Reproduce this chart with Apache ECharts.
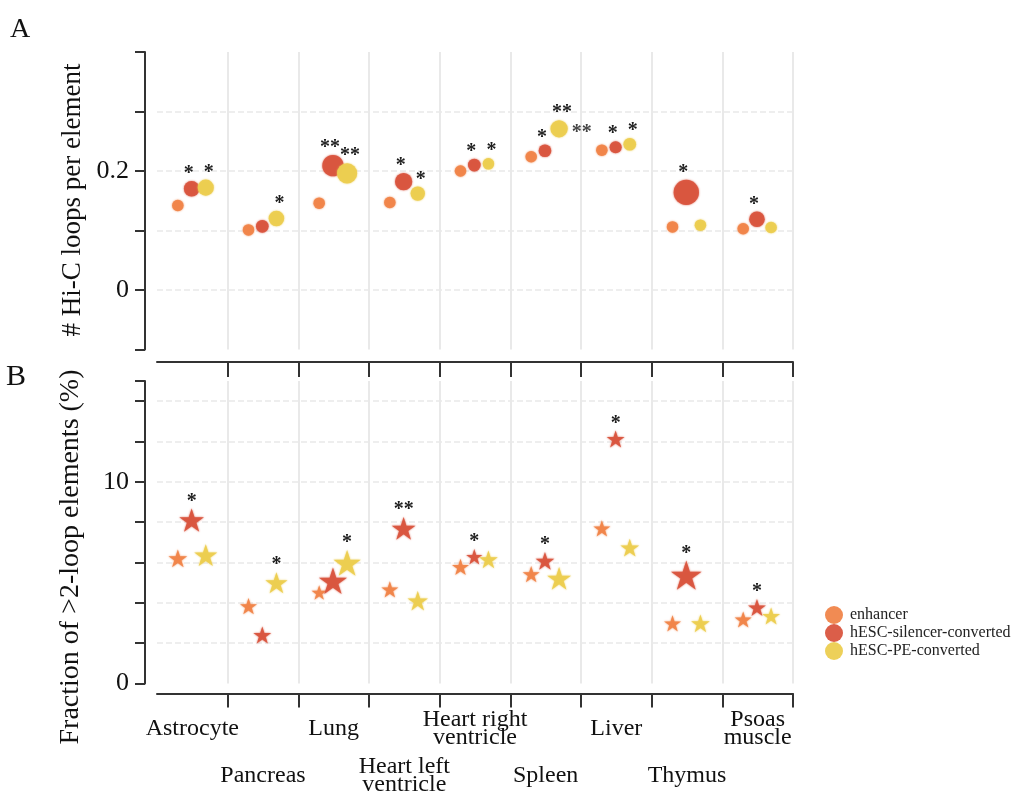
<!DOCTYPE html>
<html>
<head>
<meta charset="utf-8">
<script src="https://cdn.jsdelivr.net/npm/echarts@6/dist/echarts.min.js"></script>
<style>html,body{margin:0;padding:0;background:#fff}#c{width:1021px;height:794px}</style>
</head>
<body>
<div id="c"></div>
<script>
// ---------------- data ----------------
const categories = ['Astrocyte', 'Pancreas', 'Lung', 'Heart left\nventricle', 'Heart right\nventricle',
  'Spleen', 'Liver', 'Thymus', 'Psoas\nmuscle'];
const seriesNames = ['enhancer', 'hESC-silencer-converted', 'hESC-PE-converted'];

// Panel A: # Hi-C loops per element
const loopsEnh = [0.142, 0.101, 0.146, 0.147, 0.200, 0.224, 0.235, 0.106, 0.103];
const loopsSil = [0.170, 0.107, 0.209, 0.182, 0.210, 0.234, 0.240, 0.164, 0.119];
const loopsPE  = [0.172, 0.120, 0.196, 0.162, 0.212, 0.271, 0.245, 0.109, 0.105];
// relative marker magnitude (panel A)
const magAEnh = [1, 1, 1, 1, 1, 1, 1, 1, 1];
const magASil = [1.35, 1.1, 1.85, 1.5, 1.1, 1.1, 1.05, 2.2, 1.35];
const magAPE  = [1.4, 1.35, 1.75, 1.25, 1.0, 1.5, 1.1, 1.0, 1.0];
// significance marks (panel A)
const sigASil = ['*', '', '**', '*', '*', '*', '*', '*', '*'];
const sigAPE  = ['*', '*', '**', '*', '*', '**', '*', '', ''];
const sigAPESide = ['', '', '', '', '', '**', '', '', ''];

// Panel B: Fraction of >2-loop elements (%)
const fracEnh = [6.20, 3.83, 4.51, 4.66, 5.78, 5.42, 7.69, 2.98, 3.17];
const fracSil = [8.10, 2.40, 5.09, 7.69, 6.28, 6.08, 12.12, 5.37, 3.77];
const fracPE  = [6.36, 4.99, 5.98, 4.10, 6.15, 5.21, 6.73, 2.98, 3.34];
// relative marker magnitude (panel B)
const magBEnh = [1.1, 1, 0.9, 1, 1, 1, 1, 1, 1];
const magBSil = [1.45, 1.05, 1.65, 1.4, 0.95, 1.1, 1.05, 1.8, 1.05];
const magBPE  = [1.35, 1.3, 1.6, 1.2, 1.1, 1.4, 1.1, 1.1, 1.05];
// significance marks (panel B)
const sigBSil = ['*', '', '', '**', '*', '*', '*', '*', '*'];
const sigBPE  = ['', '*', '*', '', '', '', '', '', ''];

// tick labels
const tickLabelsA = [0, 0.2];
const tickLabelsB = [0, 10];

// ---------------- style ----------------
const FONT = 'Liberation Serif';
const COLORS = ['#F0854A', '#D9553F', '#ECCD50'];
const OFFSETS = [-0.205, -0.01, 0.19];   // dodge within category
const BASE_A = 11.5, BASE_B = 17;
const STAR = 'path://M0,-100 L22.45,-30.9 L95.1,-30.9 L36.3,11.8 L58.8,80.9 L0,38.2 L-58.8,80.9 L-36.3,11.8 L-95.1,-30.9 L-22.45,-30.9 Z';
const AXIS_COL = '#333';
const GRID_COL = '#e9e9e9';

function pts(vals, k) { return vals.map((v, i) => [i + 0.5 + OFFSETS[k], v]); }
function fmtTick(list) {
  return v => { for (const t of list) { if (Math.abs(v - t) < 1e-9) return String(t); } return ''; };
}
const labelBase = { show: true, position: 'top', distance: -3, fontFamily: FONT, fontSize: 20, fontWeight: 'bold', color: '#111' };
const skipFirst = (i) => i > 0;

function scatter(name, k, vals, mags, base, sigs, xi, yi, symbol, lblOffset) {
  return {
    name, type: 'scatter', xAxisIndex: xi, yAxisIndex: yi, symbol,
    symbolKeepAspect: true,
    data: pts(vals, k),
    symbolSize: (v, p) => base * mags[p.dataIndex],
    itemStyle: { color: COLORS[k], opacity: 0.95, shadowBlur: 2, shadowColor: COLORS[k] },
    label: Object.assign({}, labelBase, { offset: lblOffset, formatter: p => sigs[p.dataIndex] }),
    silent: true, z: 2 + k
  };
}

const series = [
  scatter(seriesNames[0], 0, loopsEnh, magAEnh, BASE_A, categories.map(() => ''), 1, 0, 'circle', [0, 0]),
  scatter(seriesNames[1], 1, loopsSil, magASil, BASE_A, sigASil, 1, 0, 'circle', [-3, 0]),
  scatter(seriesNames[2], 2, loopsPE, magAPE, BASE_A, sigAPE, 1, 0, 'circle', [3, 0]),
  {
    type: 'scatter', xAxisIndex: 1, yAxisIndex: 0, data: pts(loopsPE, 2), symbolSize: (v, p) => BASE_A * magAPE[p.dataIndex],
    itemStyle: { color: 'rgba(0,0,0,0)' }, silent: true, z: 1,
    label: Object.assign({}, labelBase, { position: 'right', distance: 4, offset: [0, 4], formatter: p => sigAPESide[p.dataIndex] })
  },
  scatter(seriesNames[0], 0, fracEnh, magBEnh, BASE_B, categories.map(() => ''), 5, 1, STAR, [0, 0]),
  scatter(seriesNames[1], 1, fracSil, magBSil, BASE_B, sigBSil, 5, 1, STAR, [0, 0]),
  scatter(seriesNames[2], 2, fracPE, magBPE, BASE_B, sigBPE, 5, 1, STAR, [0, 0])
];

const catLabel = { fontFamily: FONT, fontSize: 24, color: '#111', lineHeight: 18, verticalAlign: 'middle' };
const noZero = { onZero: false };

const option = {
  animation: false,
  backgroundColor: '#fff',
  grid: [
    { left: 157, right: 228, top: 52, height: 297.5, outerBoundsMode: 'none', containLabel: false },
    { left: 157, right: 228, top: 381, height: 302.4, outerBoundsMode: 'none', containLabel: false }
  ],
  xAxis: [
    { gridIndex: 0, type: 'category', data: categories, boundaryGap: true,
      axisLine: { show: false, onZero: false }, axisTick: { show: false }, axisLabel: { show: false },
      splitLine: { show: true, interval: skipFirst, lineStyle: { color: GRID_COL, width: 2 } } },
    { gridIndex: 0, type: 'value', min: 0, max: 9, show: false, axisLine: noZero, splitLine: { show: false } },
    { gridIndex: 1, type: 'category', data: categories, position: 'bottom', offset: 10, boundaryGap: true,
      axisLine: { show: true, onZero: false, lineStyle: { color: AXIS_COL, width: 2 } },
      axisTick: { show: true, interval: skipFirst, length: 14, lineStyle: { color: AXIS_COL, width: 2 } },
      axisLabel: Object.assign({ interval: (i) => i % 2 === 0, margin: 35 }, catLabel),
      splitLine: { show: true, interval: skipFirst, lineStyle: { color: GRID_COL, width: 2 } } },
    { gridIndex: 1, type: 'category', data: categories, position: 'bottom', offset: 57, boundaryGap: true,
      axisLine: { show: false, onZero: false }, axisTick: { show: false }, splitLine: { show: false },
      axisLabel: Object.assign({ interval: (i) => i % 2 === 1, margin: 35 }, catLabel) },
    { gridIndex: 1, type: 'category', data: categories, position: 'top', offset: 19, boundaryGap: true,
      axisLine: { show: true, onZero: false, lineStyle: { color: AXIS_COL, width: 2 } },
      axisTick: { show: true, inside: true, interval: skipFirst, length: 15, lineStyle: { color: AXIS_COL, width: 2 } },
      axisLabel: { show: false }, splitLine: { show: false } },
    { gridIndex: 1, type: 'value', min: 0, max: 9, show: false, axisLine: noZero, splitLine: { show: false } }
  ],
  yAxis: [
    { gridIndex: 0, type: 'value', min: -0.1, max: 0.4, interval: 0.1, offset: 12,
      axisLine: { show: true, onZero: false, lineStyle: { color: AXIS_COL, width: 2 } },
      axisTick: { show: true, length: 10, lineStyle: { color: AXIS_COL, width: 2 } },
      axisLabel: { formatter: fmtTick(tickLabelsA), fontFamily: FONT, fontSize: 26, color: '#111', margin: 16 },
      splitLine: { show: true, showMinLine: false, showMaxLine: false, lineStyle: { color: GRID_COL, width: 1.5, type: [6, 3] } } },
    { gridIndex: 1, type: 'value', min: 0, max: 15, interval: 2, offset: 12,
      axisLine: { show: true, onZero: false, lineStyle: { color: AXIS_COL, width: 2 } },
      axisTick: { show: true, length: 10, lineStyle: { color: AXIS_COL, width: 2 } },
      axisLabel: { formatter: fmtTick(tickLabelsB), fontFamily: FONT, fontSize: 26, color: '#111', margin: 16 },
      splitLine: { show: true, showMinLine: false, showMaxLine: false, lineStyle: { color: GRID_COL, width: 1.5, type: [6, 3] } } }
  ],
  legend: {
    orient: 'vertical', left: 825, top: 606, itemWidth: 18, itemHeight: 18, itemGap: 0, padding: 0,
    selectedMode: false, icon: 'circle',
    data: seriesNames.map(n => ({ name: n, icon: 'circle' })),
    textStyle: { fontFamily: FONT, fontSize: 16, color: '#222', padding: [0, 0, 0, 2] }
  },
  graphic: [
    { type: 'text', left: 10, top: 16, style: { text: 'A', font: '28px "Liberation Serif"', fill: '#111' } },
    { type: 'text', left: 6, top: 362, style: { text: 'B', font: '30px "Liberation Serif"', fill: '#111' } },
    { type: 'text', x: 73, y: 200, rotation: Math.PI / 2,
      style: { text: '# Hi-C loops per element', font: '27px "Liberation Serif"', fill: '#111',
        align: 'center', verticalAlign: 'middle', textAlign: 'center', textVerticalAlign: 'middle' } },
    { type: 'text', x: 71, y: 557, rotation: Math.PI / 2,
      style: { text: 'Fraction of >2-loop elements (%)', font: '28px "Liberation Serif"', fill: '#111',
        align: 'center', verticalAlign: 'middle', textAlign: 'center', textVerticalAlign: 'middle' } }
  ],
  series
};

const chart = echarts.init(document.getElementById('c'));
chart.setOption(option);
</script>
</body>
</html>
